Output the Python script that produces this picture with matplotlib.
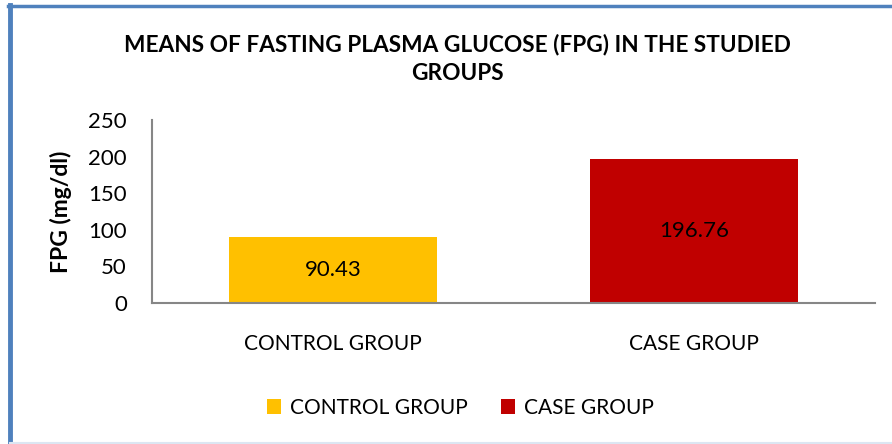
import matplotlib
matplotlib.use("Agg")
import matplotlib.pyplot as plt
from matplotlib.patches import Patch
from matplotlib.lines import Line2D

groups = ["CONTROL GROUP", "CASE GROUP"]
fpg_means = [90.43, 196.76]
bar_colors = ["#FFC000", "#C00000"]
yticks = [0, 50, 100, 150, 200, 250]

plt.rcParams['font.family'] = ['Lato', 'DejaVu Sans']

fig = plt.figure(figsize=(8.92, 4.44), dpi=100)
ax = fig.add_axes([152/892, 1-303/444, (875-152)/892, (303-120)/444])

x = list(range(len(groups)))
bars = ax.bar(x, fpg_means, width=0.575, color=bar_colors)
for xi, v in zip(x, fpg_means):
	ax.text(xi, v/2, "%.2f" % v, ha='center', va='center', fontsize=16, color='black')

ax.set_xlim(-0.5, len(groups)-0.5)
ax.set_ylim(0, 250)
ax.set_yticks(yticks)
ax.set_xticks(x)
ax.set_xticklabels(groups)
ax.tick_params(axis='y', length=0, labelsize=16, pad=18)
ax.tick_params(axis='x', length=0, labelsize=15, pad=22)
for s in ['top', 'right']:
	ax.spines[s].set_visible(False)
for s in ['left', 'bottom']:
	ax.spines[s].set_color('#868686')
	ax.spines[s].set_linewidth(1.5)
ax.set_ylabel("FPG (mg/dl)", fontsize=16.5, fontweight='bold', labelpad=12)

fig.text(457/892, 1-59/444, "MEANS OF FASTING PLASMA GLUCOSE (FPG) IN THE STUDIED\nGROUPS",
	ha='center', va='center', fontsize=16.3, fontweight='bold', linespacing=1.45)

handles = [Patch(facecolor=c, edgecolor='none') for c in bar_colors]
fig.legend(handles, groups, loc='center', bbox_to_anchor=(460/892, 1-408/444), ncol=2,
	frameon=False, fontsize=15, handlelength=0.7, handleheight=0.7, handletextpad=0.4,
	columnspacing=1.6)

# chart border
fig.add_artist(Line2D([8/892, 1], [1-6/444, 1-6/444], color='#4F81BD', lw=2.5))
fig.add_artist(Line2D([10/892, 10/892], [0, 1-5/444], color='#4F81BD', lw=3.5))
fig.add_artist(Line2D([10/892, 1], [1/444, 1/444], color='#DCE6F2', lw=1.5))

plt.savefig("out.png", dpi=100)
plt.close()
